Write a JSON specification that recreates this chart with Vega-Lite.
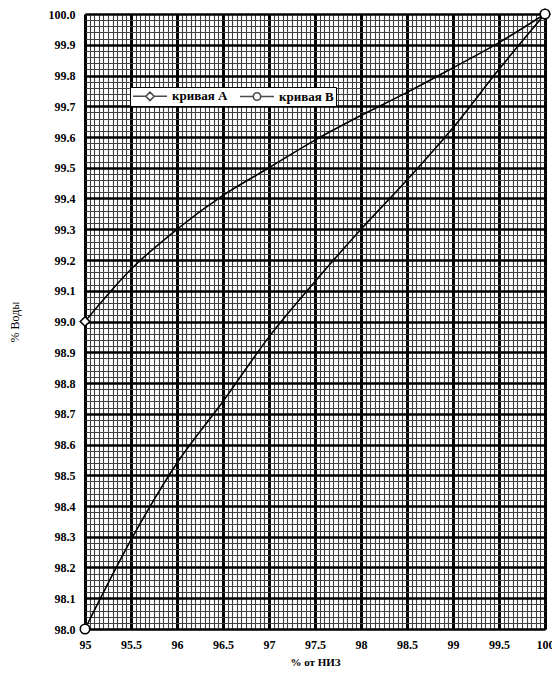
{
  "$schema": "https://vega.github.io/schema/vega-lite/v6.json",
  "width": 460,
  "height": 615,
  "autosize": {"type": "none"},
  "padding": {"left": 85, "top": 14, "right": 7, "bottom": 53},
  "background": "white",
  "config": {
    "font": "Liberation Serif",
    "view": {"stroke": "black", "strokeWidth": 1}
  },
  "data": {
    "values": [
      {"series": "кривая А", "x": 95, "y": 99.0},
      {"series": "кривая А", "x": 95.5, "y": 99.17},
      {"series": "кривая А", "x": 96, "y": 99.3},
      {"series": "кривая А", "x": 96.5, "y": 99.41},
      {"series": "кривая А", "x": 97, "y": 99.5},
      {"series": "кривая А", "x": 97.5, "y": 99.59},
      {"series": "кривая А", "x": 98, "y": 99.67},
      {"series": "кривая А", "x": 98.5, "y": 99.745},
      {"series": "кривая А", "x": 99, "y": 99.825},
      {"series": "кривая А", "x": 99.5, "y": 99.907},
      {"series": "кривая А", "x": 100, "y": 100.0},
      {"series": "кривая В", "x": 95, "y": 98.0},
      {"series": "кривая В", "x": 95.5, "y": 98.29},
      {"series": "кривая В", "x": 96, "y": 98.54},
      {"series": "кривая В", "x": 96.5, "y": 98.74},
      {"series": "кривая В", "x": 97, "y": 98.95},
      {"series": "кривая В", "x": 97.5, "y": 99.13},
      {"series": "кривая В", "x": 98, "y": 99.3},
      {"series": "кривая В", "x": 98.5, "y": 99.46},
      {"series": "кривая В", "x": 99, "y": 99.63},
      {"series": "кривая В", "x": 99.5, "y": 99.82},
      {"series": "кривая В", "x": 100, "y": 100.0}
    ]
  },
  "encoding": {
    "x": {
      "field": "x",
      "type": "quantitative",
      "scale": {"domain": [95, 100], "nice": false, "zero": false},
      "axis": {
        "title": "% от НИЗ",
        "titleFont": "Liberation Serif",
        "titleFontSize": 11,
        "titleFontWeight": "bold",
        "titleColor": "black",
        "titlePadding": 6,
        "values": [95,95.05,95.1,95.15,95.2,95.25,95.3,95.35,95.4,95.45,95.5,95.55,95.6,95.65,95.7,95.75,95.8,95.85,95.9,95.95,96,96.05,96.1,96.15,96.2,96.25,96.3,96.35,96.4,96.45,96.5,96.55,96.6,96.65,96.7,96.75,96.8,96.85,96.9,96.95,97,97.05,97.1,97.15,97.2,97.25,97.3,97.35,97.4,97.45,97.5,97.55,97.6,97.65,97.7,97.75,97.8,97.85,97.9,97.95,98,98.05,98.1,98.15,98.2,98.25,98.3,98.35,98.4,98.45,98.5,98.55,98.6,98.65,98.7,98.75,98.8,98.85,98.9,98.95,99,99.05,99.1,99.15,99.2,99.25,99.3,99.35,99.4,99.45,99.5,99.55,99.6,99.65,99.7,99.75,99.8,99.85,99.9,99.95,100],
        "labelExpr": "abs(round(datum.value*2)-datum.value*2) < 1e-6 ? format(datum.value, '~g') : ''",
        "labelFont": "Liberation Serif",
        "labelFontSize": 12,
        "labelFontWeight": "bold",
        "labelColor": "black",
        "labelPadding": 10,
        "labelOverlap": false,
        "labelFlush": false,
        "labelBound": false,
        "ticks": false,
        "domain": true,
        "domainColor": "black",
        "grid": true,
        "gridOpacity": 1,
        "gridColor": {"condition": {"test": "abs(round(datum.value*2)-datum.value*2) < 1e-6", "value": "#000000"}, "value": "#404040"},
        "gridWidth": {"condition": {"test": "abs(round(datum.value*2)-datum.value*2) < 1e-6", "value": 3}, "value": 1.1}
      }
    },
    "y": {
      "field": "y",
      "type": "quantitative",
      "scale": {"domain": [98, 100], "nice": false, "zero": false},
      "axis": {
        "title": "% Воды",
        "titleFont": "Liberation Serif",
        "titleFontSize": 12,
        "titleFontWeight": "normal",
        "titleColor": "black",
        "titlePadding": 27,
        "values": [98,98.02,98.04,98.06,98.08,98.1,98.12,98.14,98.16,98.18,98.2,98.22,98.24,98.26,98.28,98.3,98.32,98.34,98.36,98.38,98.4,98.42,98.44,98.46,98.48,98.5,98.52,98.54,98.56,98.58,98.6,98.62,98.64,98.66,98.68,98.7,98.72,98.74,98.76,98.78,98.8,98.82,98.84,98.86,98.88,98.9,98.92,98.94,98.96,98.98,99,99.02,99.04,99.06,99.08,99.1,99.12,99.14,99.16,99.18,99.2,99.22,99.24,99.26,99.28,99.3,99.32,99.34,99.36,99.38,99.4,99.42,99.44,99.46,99.48,99.5,99.52,99.54,99.56,99.58,99.6,99.62,99.64,99.66,99.68,99.7,99.72,99.74,99.76,99.78,99.8,99.82,99.84,99.86,99.88,99.9,99.92,99.94,99.96,99.98,100],
        "labelExpr": "abs(round(datum.value*10)-datum.value*10) < 1e-6 ? format(datum.value, '.1f') : ''",
        "labelFont": "Liberation Serif",
        "labelFontSize": 12,
        "labelFontWeight": "bold",
        "labelColor": "black",
        "labelPadding": 10,
        "labelOverlap": false,
        "labelFlush": false,
        "labelBound": false,
        "ticks": false,
        "domain": true,
        "domainColor": "black",
        "grid": true,
        "gridOpacity": 1,
        "gridColor": {"condition": {"test": "abs(round(datum.value*10)-datum.value*10) < 1e-6", "value": "#000000"}, "value": "#404040"},
        "gridWidth": {"condition": {"test": "abs(round(datum.value*10)-datum.value*10) < 1e-6", "value": 2.5}, "value": 1.1}
      }
    }
  },
  "layer": [
    {
      "mark": {"type": "line", "interpolate": "monotone", "color": "black", "strokeWidth": 1.6},
      "encoding": {"detail": {"field": "series"}}
    },
    {
      "transform": [{"filter": "datum.x == 95 || datum.x == 100"}],
      "mark": {"type": "point", "filled": true, "fill": "white", "stroke": "black", "strokeWidth": 1.6, "size": 90, "opacity": 1},
      "encoding": {
        "shape": {
          "field": "series",
          "type": "nominal",
          "scale": {"domain": ["кривая А", "кривая В"], "range": ["diamond", "circle"]},
          "legend": null
        }
      }
    },
    {
      "transform": [{"filter": "datum.x == 95"}],
      "mark": {"type": "point", "filled": false, "stroke": "black", "strokeWidth": 1.6, "size": 0},
      "encoding": {
        "shape": {
          "field": "series",
          "type": "nominal",
          "scale": {
            "domain": ["кривая А", "кривая В"],
            "range": [
              "M-1,0H1.13M2.53,0H4.67M1.13,0L1.83,-0.7L2.53,0L1.83,0.7Z",
              "M-1,0H1.21M2.45,0H4.67M1.21,0A0.62,0.62 0 1,0 2.45,0A0.62,0.62 0 1,0 1.21,0Z"
            ]
          },
          "legend": {
            "title": null,
            "orient": "none",
            "legendX": 45,
            "legendY": 73,
            "direction": "horizontal",
            "symbolSize": 144,
            "symbolStrokeColor": "black",
            "symbolStrokeWidth": 1.6,
            "labelFont": "Liberation Serif",
            "labelFontSize": 13,
            "labelFontWeight": "bold",
            "labelColor": "black",
            "labelOffset": 26,
            "columnPadding": 8,
            "padding": 2,
            "strokeColor": "black",
            "fillColor": "white"
          }
        }
      }
    }
  ],
  "resolve": {"scale": {"shape": "independent"}}
}
